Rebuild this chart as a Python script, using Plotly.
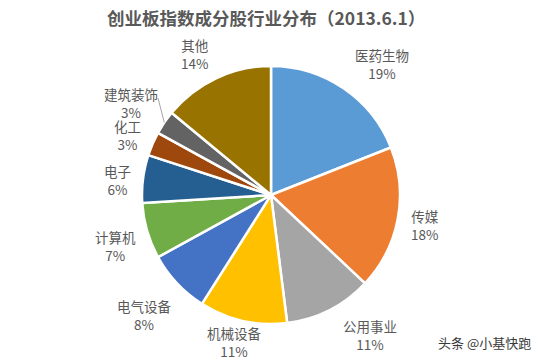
import plotly.graph_objects as go
import math

# ---- data ----
industries = ["医药生物", "传媒", "公用事业", "机械设备", "电气设备",
              "计算机", "电子", "化工", "建筑装饰", "其他"]
shares = [19, 18, 11, 11, 8, 7, 6, 3, 3, 14]
colors = ["#5B9BD5", "#ED7D31", "#A5A5A5", "#FFC000", "#4472C4",
          "#70AD47", "#255E91", "#9E480E", "#636363", "#997300"]
title_text = "创业板指数成分股行业分布（2013.6.1）"
watermark = "头条 @小基快跑"

# ---- layout geometry (screen pixels) ----
W, H = 544, 360
cx, cy, R = 271, 195, 129
# label block centres (screen pixel coords, layout only)
label_pos = [(382, 64), (425, 225), (370, 335), (234, 342), (144, 315),
             (115, 246), (117, 180), (127, 135), (131, 103), (194, 54)]

def px(x):
    return x / W

def py(y):
    return (H - y) / H

fig = go.Figure(go.Pie(
    labels=industries, values=shares,
    marker=dict(colors=colors, line=dict(color="white", width=2.5)),
    sort=False, direction="clockwise", rotation=0,
    textinfo="none", hoverinfo="label+percent",
    domain=dict(x=[px(cx - R), px(cx + R)], y=[py(cy + R), py(cy - R)]),
    showlegend=False,
))

total = sum(shares)
annotations = []
for name, v, (lx, ly) in zip(industries, shares, label_pos):
    pct = round(v / total * 100)
    annotations.append(dict(
        x=px(lx), y=py(ly), xref="paper", yref="paper",
        text=f"{name}<br>{pct}%", showarrow=False,
        xanchor="center", yanchor="middle", align="center",
        font=dict(family="Noto Sans CJK SC", size=13.5, color="#595959"),
    ))

annotations.append(dict(
    x=px(266), y=py(17), xref="paper", yref="paper", text=f"<b>{title_text}</b>",
    showarrow=False, xanchor="center", yanchor="middle",
    font=dict(family="Noto Sans CJK SC", size=17.5, color="#595959"),
))
annotations.append(dict(
    x=px(533), y=py(342), xref="paper", yref="paper", text=watermark,
    showarrow=False, xanchor="right", yanchor="middle",
    font=dict(family="Noto Sans CJK SC", size=13, color="#3a3a3a"),
))

# leader line for 建筑装饰 (to slice mid-angle on the rim)
idx = industries.index("建筑装饰")
cum = sum(shares[:idx]) + shares[idx] / 2
ang = cum / total * 2 * math.pi
ex, ey = cx + R * math.sin(ang), cy - R * math.cos(ang)
shapes = [dict(type="line", xref="paper", yref="paper",
               x0=px(158), y0=py(98), x1=px(ex), y1=py(ey),
               line=dict(color="#A6A6A6", width=1))]

fig.update_layout(
    width=W, height=H, margin=dict(l=0, r=0, t=0, b=0),
    paper_bgcolor="white", plot_bgcolor="white",
    annotations=annotations, shapes=shapes,
)
fig.write_html("out.html",
               config={"displayModeBar": False},
               post_script="document.body.style.margin='0px';"
                           "document.body.style.overflow='hidden';")
